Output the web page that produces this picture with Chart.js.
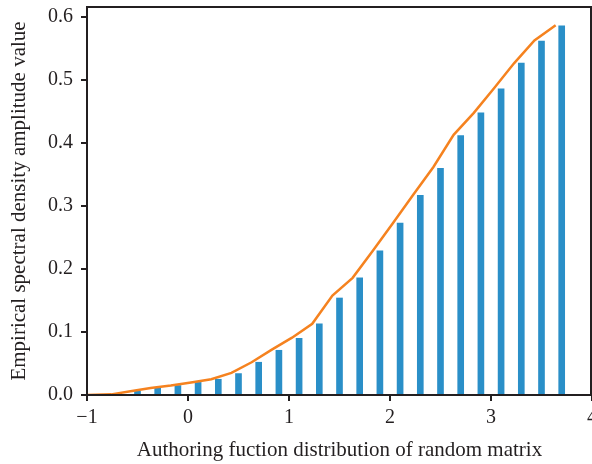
<!DOCTYPE html>
<html>
<head>
<meta charset="utf-8">
<script src="https://cdn.jsdelivr.net/npm/chart.js@4"></script>
<style>
  html, body { margin: 0; padding: 0; background: #fff; }
  #wrap { width: 592px; height: 464px; position: relative; }
</style>
</head>
<body>
<div id="wrap"><canvas id="chart"></canvas></div>
<script>
// 막대 (x 위치, 값)
const barX = [-0.5, -0.3, -0.1, 0.1, 0.3, 0.5, 0.7, 0.9, 1.1, 1.3, 1.5, 1.7, 1.9, 2.1, 2.3, 2.5, 2.7, 2.9, 3.1, 3.3, 3.5, 3.7];
const barValues = [0.006, 0.011, 0.015, 0.020, 0.025, 0.034, 0.052, 0.071, 0.090, 0.113, 0.154, 0.186, 0.229, 0.273, 0.317, 0.360, 0.412, 0.448, 0.486, 0.527, 0.562, 0.586];

// 곡선
const lineX = [-1, -0.76, -0.57, -0.37, -0.17, 0.03, 0.23, 0.43, 0.63, 0.83, 1.03, 1.23, 1.43, 1.63, 1.83, 2.03, 2.23, 2.43, 2.63, 2.83, 3.03, 3.23, 3.43, 3.64];
const lineValues = [0, 0.001, 0.006, 0.011, 0.015, 0.020, 0.025, 0.035, 0.052, 0.072, 0.091, 0.113, 0.158, 0.186, 0.229, 0.273, 0.318, 0.362, 0.413, 0.448, 0.487, 0.527, 0.563, 0.587];

// 눈금
const xTicks = [-1, 0, 1, 2, 3, 4];
const yTicks = [0, 0.1, 0.2, 0.3, 0.4, 0.5, 0.6];

const axisColor = '#231f20';
const serif = '"Liberation Serif", "DejaVu Serif", serif';

// 테두리 박스
const frame = {
    id: 'frame',
    afterDraw(chart) {
        const { ctx, chartArea: a } = chart;
        ctx.save();
        ctx.strokeStyle = axisColor;
        ctx.lineWidth = 2;
        ctx.strokeRect(a.left, a.top, a.right - a.left - 1, a.bottom - a.top);
        ctx.restore();
    }
};

new Chart(document.getElementById('chart'), {
    data: {
        datasets: [{
            type: 'line',
            data: lineX.map((x, i) => ({ x: x, y: lineValues[i] })),
            borderColor: '#f5821f',
            borderWidth: 2.5,
            pointRadius: 0,
            tension: 0,
            order: 0
        }, {
            type: 'bar',
            data: barX.map((x, i) => ({ x: x, y: barValues[i] })),
            backgroundColor: '#2a8fc8',
            barThickness: 6,
            order: 1
        }]
    },
    options: {
        responsive: true,
        maintainAspectRatio: false,
        animation: false,
        layout: { padding: { top: 7, right: 0, left: 0, bottom: 0 } },
        plugins: { legend: { display: false }, tooltip: { enabled: false } },
        scales: {
            x: {
                type: 'linear',
                min: -1,
                max: 4,
                offset: false,
                afterBuildTicks: s => { s.ticks = xTicks.map(v => ({ value: v })); },
                afterFit: s => { s.height = 69; s.paddingLeft = 0; s.paddingRight = 0; },
                grid: { offset: false, drawOnChartArea: false, drawTicks: true, tickLength: 6, color: axisColor, lineWidth: 2 },
                border: { display: true, color: axisColor, width: 2 },
                ticks: {
                    color: axisColor,
                    font: { family: serif, size: 20 },
                    padding: 5,
                    maxRotation: 0,
                    callback: v => (v < 0 ? '\u2212' + Math.abs(v) : String(v))
                },
                title: {
                    display: true,
                    text: 'Authoring fuction distribution of random matrix',
                    color: axisColor,
                    font: { family: serif, size: 21 },
                    padding: { top: 0, bottom: 1 }
                }
            },
            y: {
                min: 0,
                max: 0.616,
                afterBuildTicks: s => { s.ticks = yTicks.map(v => ({ value: v })); },
                afterFit: s => { s.width = 87; s.paddingTop = 0; s.paddingBottom = 0; },
                grid: { drawOnChartArea: false, drawTicks: true, tickLength: 6, color: axisColor, lineWidth: 2 },
                border: { display: true, color: axisColor, width: 2 },
                ticks: {
                    color: axisColor,
                    font: { family: serif, size: 20 },
                    padding: 8,
                    callback: v => v.toFixed(1)
                },
                title: {
                    display: true,
                    text: 'Empirical spectral density amplitude value',
                    color: axisColor,
                    font: { family: serif, size: 21 },
                    padding: { top: 7, bottom: 0 }
                }
            }
        }
    },
    plugins: [frame]
});
</script>
</body>
</html>
